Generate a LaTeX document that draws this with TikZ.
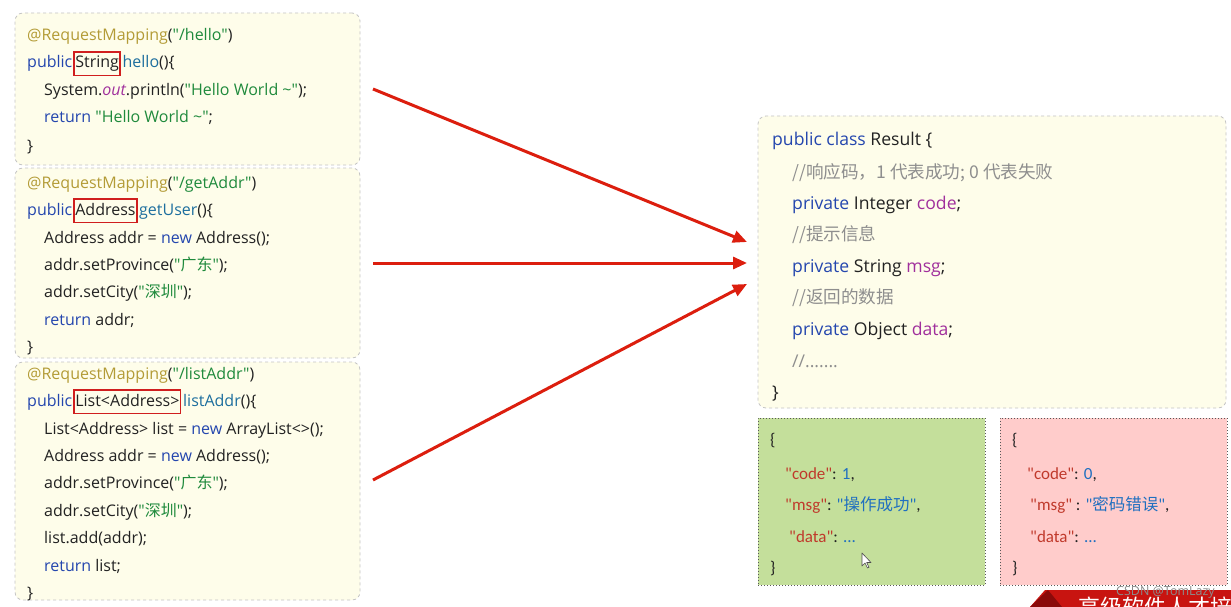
\documentclass[tikz,border=0pt]{standalone}
\usepackage{fontspec}
\setmainfont{Open Sans}[Ligatures=TeXOff]
\newfontfamily\cjk{Noto Sans CJK SC}
\newfontfamily\jsonfont{Carlito}
\usetikzlibrary{arrows.meta}
\definecolor{annot}{HTML}{B39B36}
\definecolor{strg}{HTML}{1F8A3C}
\definecolor{kwd}{HTML}{2446AE}
\definecolor{meth}{HTML}{1D6E9E}
\definecolor{purp}{HTML}{A02F9C}
\definecolor{comm}{HTML}{8E8E8E}
\definecolor{txt}{HTML}{222222}
\definecolor{boxfill}{HTML}{FEFDEA}
\definecolor{boxline}{HTML}{C4C4C4}
\definecolor{typered}{HTML}{D01E1E}
\definecolor{arrowred}{HTML}{DC1E0E}
\definecolor{okfill}{HTML}{C4DF9B}
\definecolor{errfill}{HTML}{FFCCCB}
\definecolor{jkey}{HTML}{C0392B}
\definecolor{jval}{HTML}{1F6FC0}
\definecolor{bannerred}{HTML}{C81410}
\definecolor{bannerdark}{HTML}{8A0A0A}
\newcommand\ckw[1]{\textcolor{kwd}{#1}}
\newcommand\cstr[1]{\textcolor{strg}{#1}}
\newcommand\cann[1]{\textcolor{annot}{#1}}
\newcommand\cmeth[1]{\textcolor{meth}{#1}}
\newcommand\cpur[1]{\textcolor{purp}{#1}}
\newcommand\ccom[1]{\textcolor{comm}{#1}}
\newcommand\jk[1]{\textcolor{jkey}{#1}}
\newcommand\jv[1]{\textcolor{jval}{#1}}
\begin{document}
\begin{tikzpicture}[x=1pt,y=-1pt,
  codebox/.style={draw=boxline, dashed, fill=boxfill, rounded corners=8pt, line width=0.8pt, inner sep=0pt},
  jsonbox/.style={draw=black!65, dotted, line width=1pt, inner sep=0pt},
  codeline/.style={anchor=base west, inner sep=0pt, text=txt, font=\fontsize{16}{19}\selectfont},
  resline/.style={anchor=base west, inner sep=0pt, text=txt, font=\fontsize{17.6}{20}\selectfont},
  jline/.style={anchor=base west, inner sep=0pt, text=txt, font=\jsonfont\fontsize{17}{20}\selectfont},
  typebox/.style={anchor=base west, draw=typered, line width=1.6pt, inner xsep=1.2pt, inner ysep=4pt, text height=12pt, text depth=3.5pt, text=txt, font=\fontsize{16}{19}\selectfont},
  retarrow/.style={draw=arrowred, line width=3pt, -{Triangle[length=14pt,width=12pt]}}]
\useasboundingbox (0,0) rectangle (1231,607);
\fill[white] (0,0) rectangle (1231,607);
% code boxes
\node[codebox, minimum width=345pt, minimum height=152pt] (b1) at (187.5,89) {};
\node[codebox, minimum width=345pt, minimum height=190pt] (b2) at (187.5,263) {};
\node[codebox, minimum width=345pt, minimum height=238pt] (b3) at (187.5,481) {};
% box 1
\node[codeline] (l11) at (27,41) {\cann{@RequestMapping}(\cstr{"/hello"})};
\node[codeline] (l12) at (27,68) {\ckw{public}};
\node[typebox] (t1) at ([xshift=0.8pt]l12.base east) {String};
\node[codeline] (l12b) at ([xshift=1.5pt]t1.base east) {\cmeth{hello}()\{};
\node[codeline] (l13) at (44,96) {System.\cpur{\itshape out}.println(\cstr{"Hello World \textasciitilde"});};
\node[codeline] (l14) at (44,123) {\ckw{return} \cstr{"Hello World \textasciitilde"};};
\node[codeline] (l15) at (27,151) {\}};
% box 2
\node[codeline] (l21) at (27,188) {\cann{@RequestMapping}(\cstr{"/getAddr"})};
\node[codeline] (l22) at (27,215) {\ckw{public}};
\node[typebox] (t2) at ([xshift=0.8pt]l22.base east) {Address};
\node[codeline] (l22b) at ([xshift=1.5pt]t2.base east) {\cmeth{getUser}()\{};
\node[codeline] (l23) at (44,243) {Address addr = \ckw{new} Address();};
\node[codeline] (l24) at (44,270) {addr.setProvince(\cstr{"{\cjk 广东}"});};
\node[codeline] (l25) at (44,297) {addr.setCity(\cstr{"{\cjk 深圳}"});};
\node[codeline] (l26) at (44,325) {\ckw{return} addr;};
\node[codeline] (l27) at (27,352) {\}};
% box 3
\node[codeline] (l31) at (27,379) {\cann{@RequestMapping}(\cstr{"/listAddr"})};
\node[codeline] (l32) at (27,406) {\ckw{public}};
\node[typebox] (t3) at ([xshift=0.8pt]l32.base east) {List<Address>};
\node[codeline] (l32b) at ([xshift=1.5pt]t3.base east) {\cmeth{listAddr}()\{};
\node[codeline] (l33) at (44,434) {List<Address> list = \ckw{new} ArrayList<>();};
\node[codeline] (l34) at (44,461) {Address addr = \ckw{new} Address();};
\node[codeline] (l35) at (44,488) {addr.setProvince(\cstr{"{\cjk 广东}"});};
\node[codeline] (l36) at (44,516) {addr.setCity(\cstr{"{\cjk 深圳}"});};
\node[codeline] (l37) at (44,543) {list.add(addr);};
\node[codeline] (l38) at (44,571) {\ckw{return} list;};
\node[codeline] (l39) at (27,598) {\}};
% result box
\node[codebox, minimum width=468pt, minimum height=292pt] (res) at (992,262) {};
\node[resline] (r1) at (772,146) {\ckw{public class} Result \{};
\node[resline] (r2) at (792,178) {\ccom{{\cjk //响应码，1 代表成功; 0 代表失败}}};
\node[resline] (r3) at (792,209) {\ckw{private} Integer \cpur{code};};
\node[resline] (r4) at (792,240) {\ccom{{\cjk //提示信息}}};
\node[resline] (r5) at (792,272) {\ckw{private} String \cpur{msg};};
\node[resline] (r6) at (792,303) {\ccom{{\cjk //返回的数据}}};
\node[resline] (r7) at (792,335) {\ckw{private} Object \cpur{data};};
\node[resline] (r8) at (792,367) {\ccom{//.......}};
\node[resline] (r9) at (772,398) {\}};
% json boxes
\node[jsonbox, fill=okfill, minimum width=227pt, minimum height=167pt] (ok) at (871.5,501.5) {};
\node[jline] (o1) at (770,445) {\{};
\node[jline] (o2) at (785,479) {\jk{"code"}: \jv{1},};
\node[jline] (o3) at (785,510) {\jk{"msg"}: \jv{"{\cjk\fontsize{16.5}{19}\selectfont 操作成功}"},};
\node[jline] (o4) at (789,542) {\jk{"data"}: \jv{...}};
\node[jline] (o5) at (770,573) {\}};
\node[jsonbox, fill=errfill, minimum width=227pt, minimum height=167pt] (err) at (1113.5,501.5) {};
\node[jline] (e1) at (1012,445) {\{};
\node[jline] (e2) at (1027,479) {\jk{"code"}: \jv{0},};
\node[jline] (e3) at (1030,510) {\jk{"msg"} : \jv{"{\cjk\fontsize{16.5}{19}\selectfont 密码错误}"},};
\node[jline] (e4) at (1030,542) {\jk{"data"}: \jv{...}};
\node[jline] (e5) at (1012,573) {\}};
% arrows
\coordinate (s1) at (373,89);
\coordinate (s2) at (373,263);
\coordinate (s3) at (373,480);
\coordinate (e1a) at (747,242);
\coordinate (e2a) at (747,263);
\coordinate (e3a) at (747,284);
\draw[retarrow] (s1) -- (e1a);
\draw[retarrow] (s2) -- (e2a);
\draw[retarrow] (s3) -- (e3a);
% cursor
\draw[fill=white, draw=black!70, line width=0.6pt, line join=round] (862,553) -- (862,566) -- (865,563) -- (867.5,568) -- (869,567.3) -- (866.7,562.5) -- (871,562.5) -- cycle;
% banner and watermark
\begin{scope}
\clip (0,0) rectangle (1231,607);
\fill[bannerred] (1045,590) -- (1231,590) -- (1231,607) -- (1030,607) -- cycle;
\fill[bannerdark] (1048,590) -- (1062,607) -- (1030,607) -- cycle;
\node[anchor=base west, inner sep=0pt, text=white, font=\cjk\fontsize{22}{24}\selectfont] (ban) at (1078,615) {高级软件人才培};
\end{scope}
\node[anchor=base west, inner sep=0pt, text=black!45, font=\fontsize{12.5}{14}\selectfont] (wm) at (1116,595) {CSDN @TomLazy};
\end{tikzpicture}
\end{document}
